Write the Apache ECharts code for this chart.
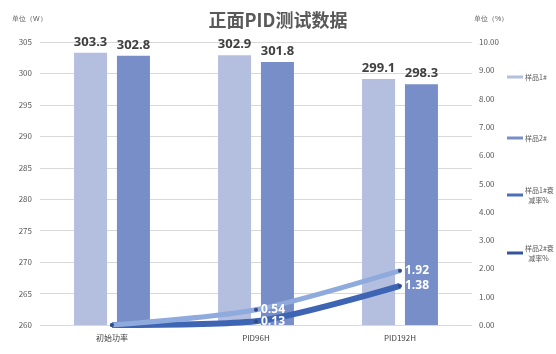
<!DOCTYPE html>
<html><head><meta charset="utf-8">
<script src="https://cdn.jsdelivr.net/npm/echarts@6/dist/echarts.min.js"></script>
<style>html,body{margin:0;padding:0;background:#fff}#c{width:556px;height:354px}</style>
</head><body><div id="c"></div>
<script>
const categories = ['初始功率', 'PID96H', 'PID192H'];
const sample1 = [303.3, 302.9, 299.1];
const sample2 = [302.8, 301.8, 298.3];
const decay1 = [0, 0.54, 1.92];
const decay2 = [0, 0.13, 1.38];
const seriesNames = ['样品1#', '样品2#', '样品1#衰减率%', '样品2#衰减率%'];
const legendLabels = ['样品1#', '样品2#', '样品1#衰\n  减率%', '样品2#衰\n  减率%'];
const legendIconColors = ['#B4BFE0', '#788EC9', '#4B70B8', '#34559C'];

const FONT = '"Noto Sans CJK SC", "Noto Sans", sans-serif';
const chart = echarts.init(document.getElementById('c'), null, {renderer: 'canvas'});
const legendTops = [67, 128, 180, 238];
const legends = seriesNames.map((n, i) => ({
  data: [{name: n, itemStyle: {color: legendIconColors[i]}}], left: 502, top: legendTops[i], orient: 'vertical',
  icon: 'rect', itemWidth: 16, itemHeight: 3, itemGap: 2,
  formatter: () => legendLabels[i],
  textStyle: {fontSize: 7, color: '#595959', fontFamily: FONT, lineHeight: 10, padding: [0,0,0,-3]}
}));
const barLabel = {show: true, position: 'top', fontSize: 13, fontWeight: 'bold', color: '#404040', fontFamily: 'Open Sans, ' + FONT, formatter: p => p.value.toFixed(1), distance: 4};
const lineLabel = {show: true, position: 'right', fontSize: 12, fontWeight: 'bold', color: '#fff', fontFamily: 'Open Sans, ' + FONT, formatter: p => p.value === 0 ? '' : p.value.toFixed(2), distance: 3};
chart.setOption({
  animation: false,
  textStyle: {fontFamily: FONT},
  title: {text: '正面PID测试数据', left: 'center', top: 6, textStyle: {fontSize: 18, fontWeight: 'bold', color: '#595959', fontFamily: FONT}},
  legend: legends,
  graphic: [
    {type: 'text', left: 12, top: 16, style: {text: '单位（W）', fontSize: 7, fill: '#595959', font: '7px ' + FONT}},
    {type: 'text', left: 474, top: 16, style: {text: '单位（%）', fontSize: 7, fill: '#595959', font: '7px ' + FONT}}
  ],
  grid: {left: 40, right: 84, top: 42, bottom: 29, containLabel: false},
  xAxis: {type: 'category', data: categories, axisLine: {show: false}, axisTick: {show: false},
    axisLabel: {fontSize: 8, color: '#404040', margin: 9, fontFamily: FONT}},
  yAxis: [
    {type: 'value', min: 260, max: 305, interval: 5, axisLine: {show: false}, axisTick: {show: false},
      axisLabel: {fontSize: 8, color: '#595959', margin: 8},
      splitLine: {lineStyle: {color: '#d9d9d9', width: 1}}},
    {type: 'value', min: 0, max: 10, interval: 1, axisLine: {show: false}, axisTick: {show: false},
      axisLabel: {fontSize: 8, color: '#595959', margin: 7, formatter: v => v.toFixed(2)},
      splitLine: {show: false}}
  ],
  series: [
    {name: seriesNames[0], type: 'bar', data: sample1, barWidth: 33, barGap: '30%', itemStyle: {color: '#B4BFE0'}, label: barLabel},
    {name: seriesNames[1], type: 'bar', data: sample2, barWidth: 33, itemStyle: {color: '#788EC9'}, label: barLabel},
    {name: seriesNames[2], type: 'line', yAxisIndex: 1, data: decay1, smooth: 0.25, symbol: 'circle', symbolSize: 4,
      lineStyle: {color: '#8FAADC', width: 5}, itemStyle: {color: '#2F4A85'}, label: lineLabel, z: 4},
    {name: seriesNames[3], type: 'line', yAxisIndex: 1, data: decay2, smooth: 0.25, symbol: 'circle', symbolSize: 4,
      lineStyle: {color: '#3E64B4', width: 6}, itemStyle: {color: '#2F4A85'}, label: lineLabel, z: 3}
  ]
});
</script></body></html>
